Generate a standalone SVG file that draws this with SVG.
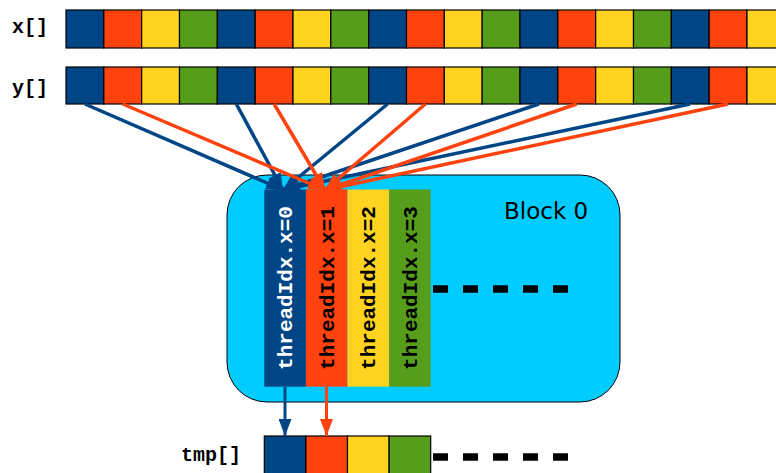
<svg xmlns="http://www.w3.org/2000/svg" width="776" height="473" viewBox="0 0 776 473">
  <style>
    .b{fill:#004586}
    .r{fill:#ff420e}
    .yl{fill:#ffd320}
    .g{fill:#579d1c}
    .cells rect{stroke:#000;stroke-width:1.2}
    .lbl{font-family:"Liberation Mono","Courier New",monospace;font-weight:bold;font-size:20px;fill:#000}
    .tid{font-family:"Liberation Mono","Courier New",monospace;font-weight:bold;font-size:21px;text-anchor:middle}
    .dash{stroke:#000;stroke-width:7.5;stroke-dasharray:15 15;fill:none}
    .ab{stroke:#004586;stroke-width:3.5;fill:none;marker-end:url(#hb)}
    .ar{stroke:#ff420e;stroke-width:3.5;fill:none;marker-end:url(#hr)}
    .db{stroke:#004586;stroke-width:3;fill:none;marker-end:url(#hb)}
    .dr{stroke:#ff420e;stroke-width:3;fill:none;marker-end:url(#hr)}
  </style>
  <defs>
    <marker id="hb" markerUnits="userSpaceOnUse" markerWidth="17" markerHeight="13" refX="17" refY="6.5" orient="auto">
      <path d="M0,0 L17,6.5 L0,13 Z" fill="#004586"/>
    </marker>
    <marker id="hr" markerUnits="userSpaceOnUse" markerWidth="17" markerHeight="13" refX="17" refY="6.5" orient="auto">
      <path d="M0,0 L17,6.5 L0,13 Z" fill="#ff420e"/>
    </marker>
  </defs>

  <!-- x[] array -->
  <g id="x-array">
    <text class="lbl" x="12" y="33">x[]</text>
    <g class="cells">
      <rect class="b" x="66" y="10" width="37.83" height="38"/>
      <rect class="r" x="103.83" y="10" width="37.83" height="38"/>
      <rect class="yl" x="141.67" y="10" width="37.83" height="38"/>
      <rect class="g" x="179.5" y="10" width="37.83" height="38"/>
      <rect class="b" x="217.33" y="10" width="37.83" height="38"/>
      <rect class="r" x="255.17" y="10" width="37.83" height="38"/>
      <rect class="yl" x="293" y="10" width="37.83" height="38"/>
      <rect class="g" x="330.83" y="10" width="37.83" height="38"/>
      <rect class="b" x="368.67" y="10" width="37.83" height="38"/>
      <rect class="r" x="406.5" y="10" width="37.83" height="38"/>
      <rect class="yl" x="444.33" y="10" width="37.83" height="38"/>
      <rect class="g" x="482.17" y="10" width="37.83" height="38"/>
      <rect class="b" x="520" y="10" width="37.83" height="38"/>
      <rect class="r" x="557.83" y="10" width="37.83" height="38"/>
      <rect class="yl" x="595.67" y="10" width="37.83" height="38"/>
      <rect class="g" x="633.5" y="10" width="37.83" height="38"/>
      <rect class="b" x="671.33" y="10" width="37.83" height="38"/>
      <rect class="r" x="709.17" y="10" width="37.83" height="38"/>
      <rect class="yl" x="747" y="10" width="37.83" height="38"/>
    </g>
  </g>

  <!-- y[] array -->
  <g id="y-array">
    <text class="lbl" x="12" y="94">y[]</text>
    <g class="cells">
      <rect class="b" x="66" y="67" width="37.83" height="37"/>
      <rect class="r" x="103.83" y="67" width="37.83" height="37"/>
      <rect class="yl" x="141.67" y="67" width="37.83" height="37"/>
      <rect class="g" x="179.5" y="67" width="37.83" height="37"/>
      <rect class="b" x="217.33" y="67" width="37.83" height="37"/>
      <rect class="r" x="255.17" y="67" width="37.83" height="37"/>
      <rect class="yl" x="293" y="67" width="37.83" height="37"/>
      <rect class="g" x="330.83" y="67" width="37.83" height="37"/>
      <rect class="b" x="368.67" y="67" width="37.83" height="37"/>
      <rect class="r" x="406.5" y="67" width="37.83" height="37"/>
      <rect class="yl" x="444.33" y="67" width="37.83" height="37"/>
      <rect class="g" x="482.17" y="67" width="37.83" height="37"/>
      <rect class="b" x="520" y="67" width="37.83" height="37"/>
      <rect class="r" x="557.83" y="67" width="37.83" height="37"/>
      <rect class="yl" x="595.67" y="67" width="37.83" height="37"/>
      <rect class="g" x="633.5" y="67" width="37.83" height="37"/>
      <rect class="b" x="671.33" y="67" width="37.83" height="37"/>
      <rect class="r" x="709.17" y="67" width="37.83" height="37"/>
      <rect class="yl" x="747" y="67" width="37.83" height="37"/>
    </g>
  </g>

  <!-- thread block with its four threads -->
  <g id="block0">
    <rect x="227" y="175" width="393" height="227" rx="40" ry="40" fill="#00ccff" stroke="#000" stroke-width="1"/>
    <text x="504" y="219" font-family="DejaVu Sans, Liberation Sans, sans-serif" font-size="23" fill="#000">Block 0</text>
    <g id="thread0">
      <rect class="b" x="264.3" y="189.5" width="41.6" height="197.2"/>
      <text class="tid" fill="#fff" transform="translate(292,288) rotate(-90)">threadIdx.x=0</text>
    </g>
    <g id="thread1">
      <rect class="r" x="305.9" y="189.5" width="41.6" height="197.2"/>
      <text class="tid" fill="#000" transform="translate(333.5,288) rotate(-90)">threadIdx.x=1</text>
    </g>
    <g id="thread2">
      <rect class="yl" x="347.5" y="189.5" width="41.6" height="197.2"/>
      <text class="tid" fill="#000" transform="translate(375,288) rotate(-90)">threadIdx.x=2</text>
    </g>
    <g id="thread3">
      <rect class="g" x="389.1" y="189.5" width="41.6" height="197.2"/>
      <text class="tid" fill="#000" transform="translate(416.5,288) rotate(-90)">threadIdx.x=3</text>
    </g>
    <path class="dash" d="M433,289 H570"/>
  </g>

  <!-- tmp[] array -->
  <g id="tmp-array">
    <text class="lbl" x="181" y="461">tmp[]</text>
    <g class="cells">
      <rect class="b" x="264.3" y="436" width="41.6" height="40"/>
      <rect class="r" x="305.9" y="436" width="41.6" height="40"/>
      <rect class="yl" x="347.5" y="436" width="41.6" height="40"/>
      <rect class="g" x="389.1" y="436" width="41.6" height="40"/>
    </g>
    <path class="dash" d="M433,457 H570"/>
  </g>

  <!-- connectors: y[] elements gathered by the two threads, then results written to tmp[] -->
  <g id="connectors">
    <path class="ab" d="M84.9,104 L283,190"/>
    <path class="ab" d="M236.3,104 L283,190"/>
    <path class="ab" d="M387.6,104 L283,190"/>
    <path class="ab" d="M538.9,104 L283,190"/>
    <path class="ab" d="M690.2,104 L283,190"/>
    <path class="ar" d="M122.7,104 L325,190"/>
    <path class="ar" d="M274.1,104 L325,190"/>
    <path class="ar" d="M425.4,104 L325,190"/>
    <path class="ar" d="M576.7,104 L325,190"/>
    <path class="ar" d="M728.1,104 L325,190"/>
    <path class="db" d="M285,387 V436"/>
    <path class="dr" d="M326.5,387 V436"/>
  </g>
</svg>
